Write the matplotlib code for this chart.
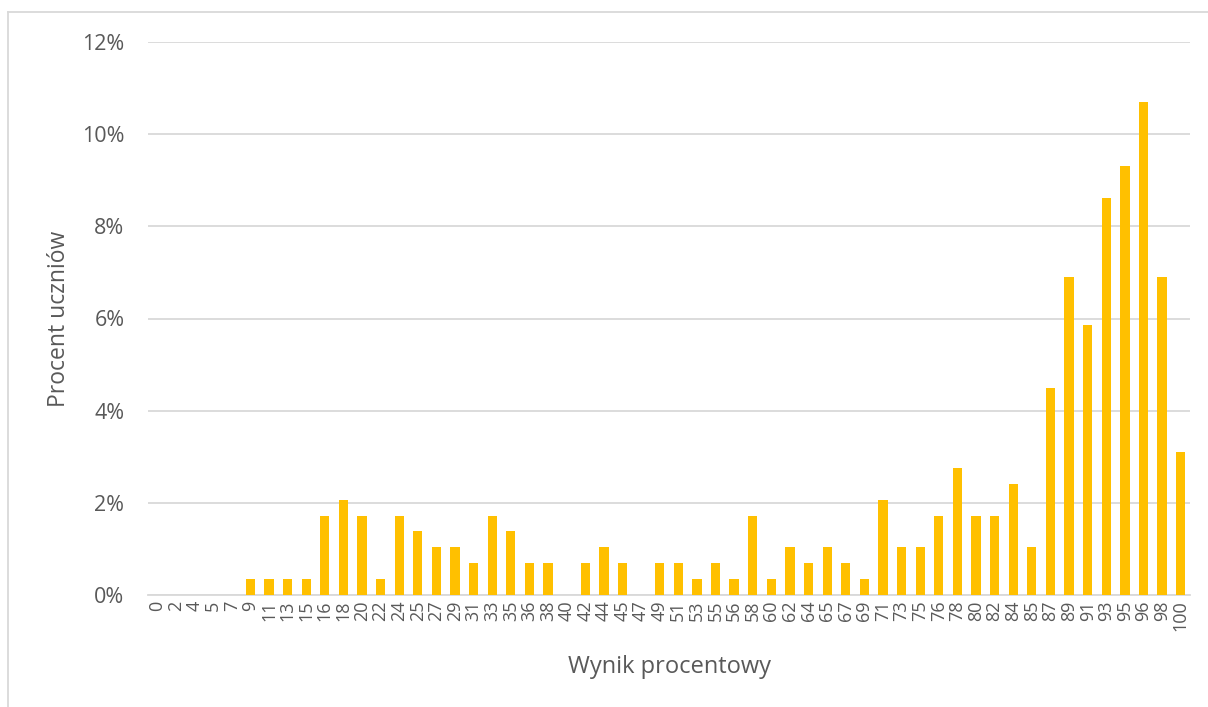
import matplotlib
matplotlib.use("Agg")
import matplotlib.pyplot as plt
from matplotlib.lines import Line2D
import numpy as np

categories = ["0", "2", "4", "5", "7", "9", "11", "13", "15", "16", "18", "20", "22", "24",
              "25", "27", "29", "31", "33", "35", "36", "38", "40", "42", "44", "45", "47",
              "49", "51", "53", "55", "56", "58", "60", "62", "64", "65", "67", "69", "71",
              "73", "75", "76", "78", "80", "82", "84", "85", "87", "89", "91", "93", "95",
              "96", "98", "100"]
counts = [0, 0, 0, 0, 0, 1, 1, 1, 1, 5, 6, 5, 1, 5,
          4, 3, 3, 2, 5, 4, 2, 2, 0, 2, 3, 2, 0,
          2, 2, 1, 2, 1, 5, 1, 3, 2, 3, 2, 1, 6,
          3, 3, 5, 8, 5, 5, 7, 3, 13, 20, 17, 25, 27,
          31, 20, 9]
total_students = 290
percent = [c / total_students * 100 for c in counts]
y_ticks = [0, 2, 4, 6, 8, 10, 12]

plt.rcParams['font.family'] = ['Open Sans', 'DejaVu Sans']
txt = '#595959'
grid = '#D9D9D9'

fig = plt.figure(figsize=(12.08, 7.07), dpi=100)
ax = fig.add_axes([148/1208, 112/707, (1190-148)/1208, (595-42)/707])

x = np.arange(len(categories))
ax.bar(x, percent, width=0.5, color='#FFC000', zorder=3)
ax.set_xlim(-0.5, len(categories) - 0.5)
ax.set_ylim(0, 12)
ax.set_yticks(y_ticks)
ax.set_yticklabels([f"{t}%" for t in y_ticks], fontsize=15.5, color=txt)
ax.set_xticks(x)
ax.set_xticklabels(categories, rotation=90, fontsize=13, color=txt)
ax.tick_params(axis='both', length=0)
ax.tick_params(axis='y', pad=17)
ax.tick_params(axis='x', pad=4)
ax.grid(axis='y', color=grid, linewidth=1.3, zorder=0)
for s in ['top', 'right', 'left']:
    ax.spines[s].set_visible(False)
ax.spines['bottom'].set_color(grid)
ax.spines['bottom'].set_linewidth(1.3)

ax.set_ylabel("Procent uczniów", fontsize=16.5, color=txt, labelpad=8)
ax.set_xlabel("Wynik procentowy", fontsize=17, color=txt, labelpad=17)

# outer chart border (top and left visible)
fig.add_artist(Line2D([8/1208, 1.0], [1 - 12/707, 1 - 12/707], transform=fig.transFigure,
                      color=grid, linewidth=1.3))
fig.add_artist(Line2D([8/1208, 8/1208], [0, 1 - 12/707], transform=fig.transFigure,
                      color=grid, linewidth=1.3))

fig.savefig("out.png", dpi=100, facecolor='white')
